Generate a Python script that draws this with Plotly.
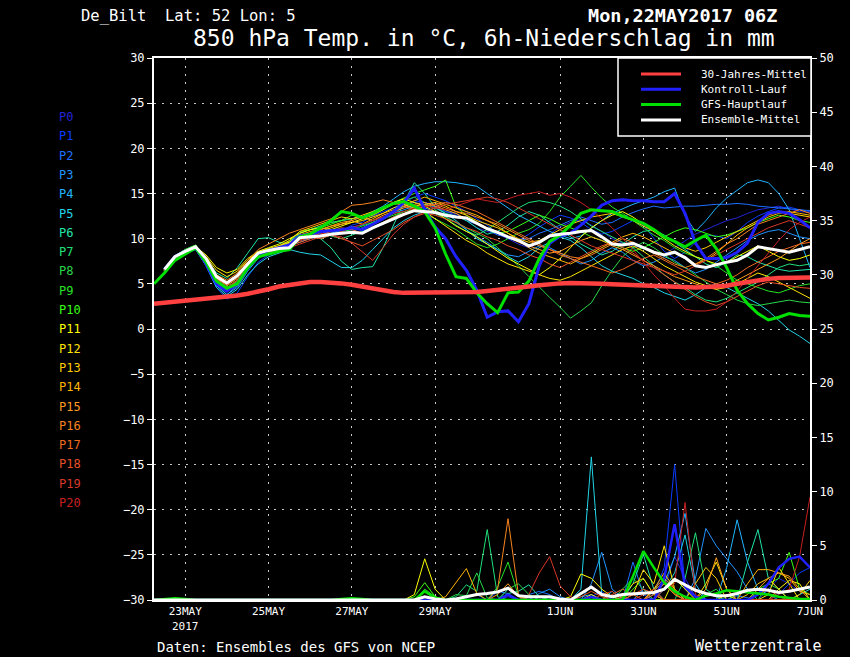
import pandas as pd
import plotly.graph_objects as go

# time axis: 6-hourly steps from 22 May 2017 06Z to 7 Jun 2017 00Z
times = pd.date_range("2017-05-22 06:00", periods=64, freq="6h")

tick_dates = ["2017-05-23", "2017-05-25", "2017-05-27", "2017-05-29",
              "2017-06-01", "2017-06-03", "2017-06-05", "2017-06-07"]
tick_text = ["23MAY<br>2017", "25MAY", "27MAY", "29MAY", "1JUN", "3JUN", "5JUN", "7JUN"]

member_names = ["P%d" % i for i in range(21)]
member_colors = ["#2424d8", "#0a3cff", "#2070ff", "#2094ff", "#20b4ff", "#20d4e8",
                 "#20e4a8", "#20e078", "#28d848", "#28e428", "#38ff10", "#ffff00",
                 "#ffe400", "#ffcc00", "#ffb400", "#ff9c20", "#f88420", "#f06a20",
                 "#e85028", "#d83828", "#c82020"]

legend_labels = ["30-Jahres-Mittel", "Kontroll-Lauf", "GFS-Hauptlauf", "Ensemble-Mittel"]

# 850 hPa temperature (deg C); members, control and mean start at 22 May 12Z
climate_temp = [2.8, 2.9, 3.0, 3.1, 3.2, 3.3, 3.4, 3.5,
                3.7, 3.9, 4.1, 4.4, 4.7, 4.9, 5.1, 5.2,
                5.2, 5.15, 5.05, 4.9, 4.7, 4.45, 4.2, 4.1,
                4.0, 4.0, 4.0, 4.0, 4.0, 4.0, 4.05, 4.1,
                4.2, 4.3, 4.4, 4.55, 4.7, 4.85, 5.0, 5.05,
                5.1, 5.1, 5.05, 5.0, 4.95, 4.9, 4.85, 4.8,
                4.75, 4.7, 4.7, 4.65, 4.6, 4.65, 4.7, 4.8,
                5.0, 5.2, 5.4, 5.55, 5.65, 5.7, 5.7, 5.7]

gfs_temp = [5.0, 6.2, 7.6, 8.3, 9.0, 7.4, 5.3, 4.5, 5.0, 6.8, 8.0, 8.3, 8.6, 8.8,
            10.2, 10.5, 11.2, 12.0, 13.0, 12.8, 12.3, 12.8, 13.4, 13.9, 14.1, 13.6, 13.0,
            11.2, 8.3, 5.8, 5.6, 4.0, 2.8, 1.8, 4.0, 4.1, 5.3, 7.8, 9.7, 10.4, 11.5, 12.8,
            13.2, 13.1, 13.0, 12.5, 12.1, 11.7, 11.0, 10.2, 9.7, 9.1, 9.8, 10.4, 8.9, 6.8,
            4.3, 2.8, 1.7, 1.0, 1.3, 1.7, 1.5, 1.4]

control_temp = [6.6, 8.0, 8.6, 9.0, 7.2, 5.0, 4.2, 5.0, 6.8, 8.2, 8.7, 9.0, 9.3,
                10.3, 10.5, 10.8, 10.9, 11.0, 11.2, 11.0, 11.6, 12.2, 13.0, 14.0, 15.6, 13.2,
                11.3, 10.0, 8.0, 6.5, 4.3, 1.3, 1.9, 2.0, 0.8, 2.8, 7.0, 9.5, 10.3, 10.6, 11.5,
                12.5, 13.7, 14.2, 14.3, 14.2, 14.2, 14.1, 14.1, 15.0, 12.8, 9.5, 7.8, 7.8, 7.9,
                8.5, 9.5, 11.8, 12.8, 13.0, 12.8, 12.1, 11.2]

mean_temp = [6.6, 8.0, 8.6, 9.1, 7.8, 5.8, 5.1, 5.9, 7.2, 8.4, 8.7, 8.9, 9.0,
             10.1, 10.2, 10.3, 10.5, 10.6, 10.7, 10.6, 11.2, 11.7, 12.2, 12.7, 13.1, 13.0,
             12.9, 12.6, 12.4, 12.3, 11.7, 11.1, 10.7, 10.2, 9.8, 9.2, 9.6, 10.3, 10.5, 10.6,
             10.8, 10.9, 10.2, 9.4, 9.3, 9.5, 9.0, 8.5, 8.2, 8.5, 7.9, 7.0, 6.8, 7.1, 7.4,
             7.6, 8.2, 9.1, 8.9, 8.7, 8.5, 8.8, 9.1]

temp_p00 = [6.6, 8.0, 8.7, 9.2, 7.4, 5.3, 4.2, 5.0, 6.8, 8.2, 8.7, 9.0, 9.4,
            10.2, 10.5, 10.4, 10.8, 11.0, 11.2, 11.0, 11.6, 12.2, 12.8, 13.5, 14.2, 14.0,
            13.8, 13.0, 12.6, 12.0, 11.2, 10.8, 10.5, 10.0, 9.4, 9.0, 9.6, 10.5, 11.3, 11.8,
            12.1, 11.5, 10.8, 10.0, 9.5, 9.2, 9.0, 8.6, 8.2, 9.0, 9.8, 10.5, 11.0, 11.5, 12.0,
            12.3, 12.8, 13.2, 13.4, 13.6, 13.3, 13.0, 12.9]
temp_p01 = [6.5, 7.9, 8.5, 9.0, 7.0, 4.6, 3.3, 4.0, 5.8, 7.4, 8.2, 8.6, 9.0,
            9.8, 10.0, 10.5, 11.0, 10.8, 11.5, 11.8, 12.5, 13.0, 13.4, 14.0, 14.6, 15.0,
            14.6, 14.2, 13.6, 13.0, 12.2, 11.5, 10.6, 10.0, 9.8, 10.5, 11.3, 12.0, 12.6, 12.3,
            11.8, 11.0, 10.5, 10.8, 11.4, 12.0, 11.5, 10.0, 8.6, 7.8, 8.5, 9.6, 10.4, 10.3,
            10.0, 10.8, 11.8, 12.5, 13.0, 13.4, 13.5, 13.2, 13.0]
temp_p02 = [6.6, 8.0, 8.6, 9.1, 7.6, 5.5, 4.5, 5.3, 6.9, 8.3, 8.7, 9.0, 9.5,
            10.4, 10.6, 10.8, 10.5, 10.9, 11.3, 11.5, 12.0, 12.4, 13.0, 13.6, 14.0, 13.8,
            13.5, 13.0, 12.8, 12.0, 11.6, 11.0, 10.4, 10.2, 9.8, 10.0, 10.6, 11.0, 11.5, 12.0,
            12.4, 12.0, 11.6, 11.8, 12.4, 12.9, 13.3, 13.6, 13.4, 13.5, 13.6, 13.6, 13.7, 13.8,
            13.8, 13.9, 13.8, 13.6, 13.5, 13.4, 13.3, 13.2, 13.1]
temp_p03 = [6.5, 7.8, 8.4, 9.0, 7.2, 5.0, 3.8, 4.6, 6.4, 7.8, 8.5, 8.8, 9.2,
            9.6, 10.0, 10.2, 10.6, 11.0, 10.8, 11.2, 11.8, 12.3, 12.8, 13.2, 13.6, 13.4,
            13.0, 12.4, 11.8, 11.0, 10.2, 9.6, 8.8, 8.2, 8.0, 8.6, 9.2, 9.0, 8.4, 7.8,
            7.2, 7.6, 8.4, 9.0, 8.5, 7.6, 7.0, 7.4, 8.0, 7.6, 6.8, 6.2, 6.6, 7.4, 8.2,
            9.0, 9.8, 10.4, 10.8, 11.0, 10.6, 10.2, 10.0]
temp_p04 = [6.7, 8.1, 8.8, 9.3, 7.2, 4.8, 3.8, 4.8, 6.6, 8.0, 8.6, 9.0, 9.6,
            10.6, 11.0, 11.4, 11.8, 12.0, 12.2, 12.4, 13.0, 13.6, 14.4, 15.2, 15.8, 16.1,
            16.3, 16.3, 16.2, 16.0, 15.8, 15.0, 14.2, 13.4, 12.6, 12.0, 11.4, 10.8, 10.4, 10.0,
            10.3, 11.2, 12.0, 12.8, 13.3, 13.8, 14.2, 14.6, 15.2, 15.6, 12.5, 10.8, 12.0, 13.4,
            14.5, 15.4, 16.2, 16.5, 16.2, 15.0, 13.2, 10.0, 6.8]
temp_p05 = [6.4, 7.7, 8.3, 8.8, 7.0, 4.6, 3.6, 4.4, 6.0, 7.2, 8.0, 8.4, 8.8,
            8.5, 8.3, 8.2, 7.5, 6.8, 6.8, 7.6, 8.8, 10.0, 11.2, 12.0, 12.6, 13.0,
            13.4, 12.8, 12.0, 11.0, 10.0, 9.4, 8.8, 8.0, 7.4, 8.0, 9.0, 9.6, 10.2, 9.8,
            9.0, 8.0, 7.0, 6.4, 6.0, 5.6, 5.0, 4.6, 4.0, 3.6, 3.2, 3.8, 4.6, 5.0, 4.6,
            4.0, 3.4, 2.8, 2.0, 1.0, -0.1, -0.8, -1.6]
temp_p06 = [6.6, 8.0, 8.6, 9.1, 7.8, 6.2, 5.6, 6.8, 8.4, 10.0, 10.1, 9.6, 9.4,
            9.8, 10.2, 10.0, 9.0, 7.5, 6.6, 6.8, 6.9, 9.0, 11.5, 14.0, 16.2, 15.0,
            13.5, 12.8, 12.5, 12.0, 11.2, 10.5, 10.8, 11.5, 12.4, 13.0, 12.6, 11.8, 11.0, 10.2,
            9.4, 8.8, 8.2, 8.6, 9.4, 10.2, 10.8, 11.0, 10.4, 9.6, 8.8, 8.0, 7.2, 6.8, 7.4,
            8.2, 8.0, 7.4, 7.0, 6.6, 6.4, 6.5, 6.6]
temp_p07 = [6.5, 7.9, 8.5, 9.0, 7.5, 5.5, 4.6, 5.4, 7.0, 8.3, 8.8, 9.1, 9.6,
            10.0, 10.4, 10.6, 10.3, 10.0, 10.4, 10.8, 11.2, 11.8, 12.4, 13.0, 13.4, 13.2,
            12.8, 12.2, 11.5, 10.8, 10.4, 11.0, 11.8, 12.6, 13.4, 14.0, 14.2, 14.0, 13.6, 13.0,
            12.2, 11.4, 10.8, 10.2, 9.6, 9.0, 8.0, 7.0, 6.0, 5.2, 4.6, 3.8, 3.2, 3.0, 3.4,
            4.0, 4.6, 5.2, 6.0, 6.8, 7.2, 7.0, 7.2]
temp_p08 = [6.6, 8.0, 8.7, 9.2, 7.6, 5.6, 4.8, 5.6, 7.2, 8.4, 8.8, 9.0, 9.4,
            10.6, 11.0, 11.4, 11.8, 12.0, 12.2, 12.4, 12.8, 13.2, 13.8, 14.2, 14.6, 14.0,
            13.2, 12.4, 11.8, 11.2, 10.6, 10.0, 9.0, 8.0, 7.0, 5.8, 4.6, 3.5, 2.4, 1.2,
            2.0, 2.9, 4.8, 6.5, 8.0, 9.0, 9.6, 9.0, 8.2, 7.4, 6.8, 6.0, 5.2, 4.4, 3.8,
            3.2, 2.8, 2.6, 2.8, 3.0, 3.2, 3.0, 2.9]
temp_p09 = [6.5, 7.9, 8.4, 8.9, 7.4, 5.4, 4.5, 5.3, 6.9, 8.1, 8.5, 8.8, 9.2,
            9.8, 10.2, 10.0, 10.4, 10.8, 11.0, 11.4, 11.8, 12.2, 12.6, 13.0, 13.2, 12.8,
            12.2, 11.6, 11.0, 10.2, 9.4, 9.0, 9.4, 10.0, 10.6, 11.0, 11.7, 13.0, 14.6, 15.8,
            17.0, 15.7, 14.5, 13.5, 12.8, 12.0, 11.2, 10.4, 9.8, 9.0, 8.4, 8.0, 7.6, 7.0, 6.2,
            5.4, 5.0, 4.6, 4.2, 4.0, 4.4, 4.8, 5.0]
temp_p10 = [6.7, 8.1, 8.8, 9.3, 7.7, 5.8, 5.0, 5.8, 7.3, 8.5, 8.9, 9.2, 9.7,
            10.8, 11.0, 11.2, 11.6, 12.0, 12.6, 12.4, 12.8, 13.4, 14.0, 14.5, 15.0, 15.4,
            15.8, 16.5, 13.5, 12.6, 11.8, 11.0, 10.6, 10.8, 11.4, 12.0, 12.6, 12.2, 11.6, 11.2,
            10.8, 10.2, 9.8, 9.4, 9.0, 8.6, 9.0, 9.6, 10.2, 10.8, 11.2, 11.0, 10.6, 10.2, 10.4,
            10.8, 11.2, 11.8, 12.2, 12.6, 12.4, 12.0, 11.8]
temp_p11 = [6.6, 8.0, 8.6, 9.1, 8.2, 6.8, 6.2, 6.6, 7.8, 8.6, 9.0, 9.4, 10.0,
            10.6, 11.0, 11.2, 11.0, 11.4, 11.8, 12.2, 12.6, 13.2, 14.0, 14.4, 14.0, 13.6,
            13.0, 12.2, 11.4, 10.8, 10.2, 9.4, 8.6, 7.8, 7.2, 6.6, 6.0, 6.8, 7.8, 9.0,
            10.2, 11.2, 12.0, 12.6, 13.0, 12.4, 11.6, 10.8, 10.0, 9.2, 8.6, 8.0, 7.6, 7.2, 7.4,
            8.0, 8.6, 9.2, 8.6, 8.0, 7.6, 7.8, 8.2]
temp_p12 = [6.5, 7.9, 8.5, 9.0, 8.0, 6.5, 5.8, 6.4, 7.6, 8.5, 8.9, 9.2, 9.6,
            10.2, 10.4, 10.8, 11.2, 11.6, 11.8, 12.0, 12.4, 12.8, 13.4, 13.8, 13.4, 13.0,
            12.2, 11.4, 10.6, 9.8, 9.2, 8.4, 7.8, 7.2, 6.8, 6.4, 6.0, 5.6, 5.4, 5.8,
            6.4, 7.0, 7.6, 8.2, 8.8, 9.2, 8.6, 7.8, 7.0, 6.4, 5.8, 5.2, 4.8, 4.4, 4.6,
            5.0, 5.6, 6.2, 5.8, 5.2, 4.6, 4.0, 3.4]
temp_p13 = [6.6, 8.0, 8.6, 9.2, 7.8, 6.0, 5.2, 6.0, 7.4, 8.4, 8.8, 9.2, 9.8,
            10.8, 11.2, 11.6, 12.0, 12.4, 12.2, 12.6, 13.0, 13.4, 13.8, 14.0, 13.6, 13.8,
            14.0, 13.6, 13.0, 12.6, 12.0, 11.6, 11.2, 10.6, 10.0, 9.6, 9.8, 10.4, 11.0, 11.6,
            12.0, 12.4, 12.6, 12.8, 12.4, 12.0, 11.4, 10.8, 10.2, 9.6, 9.0, 8.6, 9.0, 9.6, 10.2,
            10.8, 11.4, 12.0, 12.6, 13.0, 12.8, 12.6, 12.4]
temp_p14 = [6.6, 8.0, 8.7, 9.1, 7.6, 5.8, 5.0, 5.8, 7.2, 8.4, 8.8, 9.0, 9.5,
            10.4, 10.8, 11.0, 11.4, 11.8, 12.0, 11.6, 12.2, 12.8, 13.2, 13.6, 14.2, 14.6,
            14.2, 13.8, 13.4, 13.0, 12.6, 12.0, 11.4, 10.6, 9.8, 9.0, 8.4, 8.0, 7.6, 7.2,
            7.8, 8.4, 9.0, 9.6, 10.2, 10.6, 10.2, 9.6, 9.0, 8.4, 7.8, 7.2, 7.6, 8.4, 9.4,
            10.4, 11.2, 11.8, 12.4, 12.8, 13.0, 12.8, 12.6]
temp_p15 = [6.5, 7.9, 8.5, 9.0, 7.5, 5.6, 4.8, 5.6, 7.0, 8.2, 8.7, 9.0, 9.4,
            10.0, 10.6, 11.0, 11.4, 11.6, 12.0, 12.4, 12.0, 12.6, 13.0, 13.4, 13.8, 14.0,
            13.6, 13.2, 12.8, 12.2, 11.8, 11.2, 10.8, 10.2, 9.6, 9.2, 8.8, 8.4, 8.6, 9.2,
            9.8, 10.2, 9.8, 9.2, 8.8, 8.2, 7.6, 7.0, 6.4, 5.8, 5.4, 5.0, 4.6, 4.4, 4.8,
            5.4, 6.0, 6.6, 7.2, 7.8, 8.6, 9.4, 10.0]
temp_p16 = [6.6, 8.0, 8.7, 9.2, 7.8, 6.0, 5.4, 6.2, 7.6, 8.8, 9.4, 10.0, 10.6,
            11.0, 11.4, 11.8, 12.2, 13.0, 13.7, 13.8, 14.0, 14.3, 14.0, 13.6, 13.2, 13.6,
            13.8, 13.4, 13.0, 12.8, 12.4, 12.0, 11.6, 11.0, 10.4, 9.8, 9.2, 8.8, 8.4, 8.0,
            7.8, 8.2, 8.8, 9.4, 10.0, 9.6, 9.0, 8.4, 7.8, 7.2, 6.8, 7.2, 7.8, 8.6, 9.4,
            10.0, 10.8, 11.6, 12.0, 12.4, 12.8, 13.2, 12.8]
temp_p17 = [6.5, 7.9, 8.4, 8.9, 7.4, 5.4, 4.5, 5.4, 6.8, 8.0, 8.5, 8.8, 9.2,
            9.6, 10.0, 10.4, 10.8, 11.2, 11.0, 10.6, 11.2, 11.8, 12.4, 12.8, 13.2, 13.6,
            13.8, 14.0, 13.8, 13.4, 13.0, 12.4, 11.8, 11.2, 10.6, 10.0, 9.4, 8.8, 8.2, 7.8,
            7.4, 7.0, 6.6, 6.2, 6.6, 7.2, 7.8, 8.2, 7.6, 7.0, 6.4, 5.8, 5.4, 5.0, 5.4,
            6.0, 6.8, 7.4, 8.0, 8.6, 9.0, 9.4, 9.6]
temp_p18 = [6.6, 8.0, 8.6, 9.0, 7.6, 5.8, 5.0, 5.8, 7.2, 8.2, 8.6, 8.9, 9.2,
            9.8, 10.2, 10.0, 10.4, 10.0, 9.6, 9.2, 9.8, 10.4, 11.0, 11.8, 12.4, 12.8,
            12.6, 12.2, 11.8, 11.2, 10.8, 10.2, 9.8, 9.2, 8.8, 8.2, 7.8, 7.2, 6.8, 7.4,
            8.0, 8.6, 9.2, 9.6, 9.0, 8.4, 7.6, 6.8, 6.0, 5.2, 4.4, 3.6, 3.0, 2.6, 3.0,
            3.6, 4.2, 4.8, 5.2, 5.0, 4.8, 4.6, 4.5]
temp_p19 = [6.5, 7.8, 8.4, 8.9, 7.4, 5.5, 4.6, 5.4, 6.8, 8.0, 8.4, 8.7, 9.0,
            9.4, 9.8, 10.2, 10.4, 10.2, 9.5, 8.5, 7.6, 9.0, 10.5, 11.6, 12.4, 13.0,
            13.4, 13.8, 14.0, 14.2, 14.4, 14.6, 14.4, 14.0, 13.4, 12.8, 12.2, 11.6, 11.0, 10.4,
            9.8, 9.2, 8.8, 8.4, 8.0, 7.6, 7.2, 6.8, 6.4, 6.0, 6.4, 7.0, 7.6, 8.2, 8.8,
            9.4, 10.0, 10.6, 11.2, 11.6, 12.0, 11.6, 11.2]
temp_p20 = [6.6, 7.9, 8.5, 9.0, 7.6, 5.7, 4.9, 5.7, 7.1, 8.2, 8.6, 8.9, 9.3,
            9.8, 10.2, 10.6, 10.4, 10.8, 11.2, 11.6, 12.0, 12.4, 12.8, 13.0, 13.4, 13.6,
            13.4, 13.2, 13.6, 14.0, 14.4, 14.2, 14.0, 14.4, 14.8, 15.0, 15.2, 14.8, 15.0, 14.6,
            14.0, 13.2, 12.2, 11.2, 10.0, 8.8, 7.4, 6.0, 4.8, 3.4, 2.2, 2.0, 2.0, 2.2, 3.0,
            4.2, 5.6, 7.0, 8.4, 9.8, 11.0, 11.8, 12.4]

# 6h precipitation (mm), 22 May 06Z .. 7 Jun 00Z
prec_p00 = [0, 0, 0, 0, 0, 0, 0, 0, 0, 0, 0, 0, 0, 0, 0, 0, 0, 0, 0, 0, 0, 0, 0, 0, 0, 0, 0, 0, 0, 0, 0, 0,
            0, 0, 0.3, 0, 0, 0, 0, 0, 0, 0, 0.2, 0, 0, 0, 0, 0, 0, 1.0, 4.0, 2.0, 0.3, 0, 0, 0, 0, 0, 0, 1.0, 2.0, 1.5, 0.8, 0.5]
prec_p01 = [0, 0, 0, 0, 0, 0, 0, 0, 0, 0, 0, 0, 0, 0, 0, 0, 0, 0, 0, 0, 0, 0, 0, 0, 0, 0, 0, 0, 0, 0, 0, 0,
            0, 0, 0, 0, 0, 0, 0, 0, 0, 0, 0.3, 0.8, 0, 0, 0, 0, 0.5, 3.0, 12.5, 1.0, 0.2, 0, 0, 0, 0, 0, 0, 0, 0.5, 1.5, 2.5, 3.0]
prec_p02 = [0, 0, 0, 0, 0, 0, 0, 0, 0, 0, 0, 0, 0, 0, 0, 0, 0, 0, 0, 0, 0, 0, 0, 0, 0, 0, 0, 0, 0, 0, 0.3, 0.5,
            0, 0.8, 0.6, 0, 0.5, 0.8, 0.5, 0, 0, 0, 0, 0, 0, 0, 3.5, 0.5, 0, 0, 0, 0, 0, 0, 0, 0, 0.4, 0.2, 0, 0, 0, 0, 0, 0]
prec_p03 = [0, 0, 0, 0, 0, 0, 0, 0, 0, 0, 0, 0, 0, 0, 0, 0, 0, 0, 0, 0, 0, 0, 0, 0, 0, 0, 0, 0, 0, 0, 0, 0,
            0, 0, 1.0, 0.5, 0, 0.6, 1.0, 0.3, 0, 0, 1.5, 4.4, 1.0, 0.2, 0, 0, 0, 0, 0, 0, 2.0, 6.6, 5.0, 3.8, 2.6, 1.0, 0, 0, 0, 0, 0, 0]
prec_p04 = [0, 0, 0, 0, 0, 0, 0, 0, 0, 0, 0, 0, 0, 0, 0, 0, 0, 0, 0, 0, 0, 0, 0, 0, 0, 0, 0, 0, 0, 0, 0, 0,
            0, 0, 0, 0, 0, 0, 0, 0, 0, 0.3, 0.5, 0, 0.8, 0, 0, 1.0, 0.5, 1.5, 4.0, 8.0, 1.5, 0, 0, 3.0, 7.4, 3.5, 1.0, 0.5, 0, 0, 0, 0]
prec_p05 = [0, 0, 0, 0, 0, 0, 0, 0, 0, 0, 0, 0, 0, 0, 0, 0, 0, 0, 0, 0, 0, 0, 0, 0, 0, 0, 0, 0, 0, 0, 0, 0,
            0, 0, 0, 0, 0, 0, 0, 0, 0, 1.0, 13.2, 0.5, 0.3, 0, 0, 0, 0, 1.0, 2.5, 6.0, 1.0, 0, 0, 0, 0, 0, 0, 0, 0, 0, 0.5, 1.0]
prec_p06 = [0, 0, 0, 0, 0, 0, 0, 0, 0, 0, 0, 0, 0, 0, 0, 0, 0, 0, 0, 0, 0, 0, 0, 0, 0, 0, 0, 0, 0, 0, 0, 0,
            0, 0, 0.6, 0.8, 1.4, 0.3, 0, 0, 0, 0, 0, 0, 0, 0, 1.5, 4.2, 1.0, 0, 0, 0, 0, 0, 0, 0, 0, 3.5, 6.5, 2.0, 1.0, 0, 0, 0]
prec_p07 = [0, 0, 0, 0, 0, 0, 0, 0, 0, 0, 0, 0, 0, 0, 0, 0, 0, 0, 0, 0, 0, 0, 0, 0, 0, 0, 0, 0, 0, 0.3, 1.4, 0.8,
            6.5, 0.3, 0, 0, 0, 0, 0, 0, 0, 0, 0, 0, 0, 0, 0, 0, 0, 0, 0, 2.0, 6.2, 1.0, 0.3, 0, 0, 0, 0, 0, 0, 0, 0, 0]
prec_p08 = [0, 0, 0, 0, 0, 0, 0, 0, 0, 0, 0, 0, 0, 0, 0, 0, 0, 0, 0, 0, 0, 0, 0, 0, 0, 0, 0, 0, 0, 0.5, 0.4, 2.5,
            0.2, 0, 1.0, 1.5, 0.5, 0, 0, 0, 0, 0, 0, 0, 0, 1.0, 2.0, 1.0, 0, 0, 0, 0, 0, 0.5, 1.0, 0, 0, 0, 0, 1.5, 1.0, 0, 0, 0]
prec_p09 = [0, 0, 0, 0, 0, 0, 0, 0, 0, 0, 0, 0, 0, 0, 0, 0, 0, 0, 0, 0, 0, 0, 0, 0, 0, 0, 1.0, 0.3, 0, 0, 0, 0,
            0, 1.2, 3.5, 0.4, 0, 0, 0, 0, 0, 0, 0, 0, 0, 0, 0, 0, 1.0, 1.5, 0.5, 0, 0, 0, 0, 0, 0.6, 1.0, 0, 0, 0, 0, 0, 0]
prec_p10 = [0, 0, 0, 0, 0, 0, 0, 0, 0, 0, 0, 0, 0, 0, 0, 0, 0, 0, 0, 0, 0, 0, 0, 0, 0, 0.3, 1.6, 0.3, 0, 0, 0, 0,
            0, 0, 0, 0, 0.4, 0.3, 0, 0, 0, 0, 0, 0, 0, 0, 1.0, 2.0, 0.5, 0, 0, 0, 0, 0, 0, 0, 0, 0, 1.0, 1.5, 2.0, 4.4, 1.0, 0.5]
prec_p11 = [0, 0, 0, 0, 0, 0, 0, 0, 0, 0, 0, 0, 0, 0, 0, 0, 0, 0, 0, 0, 0, 0, 0, 0, 0, 0.5, 3.8, 1.0, 0, 0, 0, 0,
            0, 0, 0, 0, 0, 0, 0, 0, 0.3, 2.4, 2.0, 1.0, 0.3, 0, 0, 0, 0, 0, 2.0, 1.0, 0, 0, 0, 0.5, 0, 0, 0, 0, 1.0, 1.8, 1.5, 0]
prec_p12 = [0, 0, 0, 0, 0, 0, 0, 0, 0, 0, 0, 0, 0, 0, 0, 0, 0, 0, 0, 0, 0, 0, 0, 0, 0, 0, 0, 0, 0, 0, 0, 0,
            0, 0, 0, 0, 0, 0, 0, 0, 0, 0, 0.5, 0, 0, 0, 0.5, 2.8, 1.5, 5.0, 1.0, 0, 0, 1.5, 3.5, 1.0, 0, 0, 0, 0.5, 3.0, 1.5, 0, 0]
prec_p13 = [0, 0, 0, 0, 0, 0, 0, 0, 0, 0, 0, 0, 0, 0, 0, 0, 0, 0, 0, 0, 0, 0, 0, 0, 0, 0, 0, 0, 0, 0, 0, 0,
            0, 0, 0, 0, 0, 0, 0, 0, 0, 0, 0, 0, 0, 0.3, 1.5, 2.0, 0.5, 0, 0, 0, 1.5, 3.0, 2.0, 0, 0, 0.5, 1.5, 2.0, 1.0, 0, 0.5, 1.8]
prec_p14 = [0, 0, 0, 0, 0, 0, 0, 0, 0, 0, 0, 0, 0, 0, 0, 0, 0, 0, 0, 0, 0, 0, 0, 0, 0, 0, 0, 0, 0.3, 1.6, 2.9, 0.6,
            0, 0, 0, 0, 0, 0, 0, 0, 0, 0, 0, 0, 0, 0, 0, 0, 1.0, 2.5, 1.0, 0, 0, 0, 0, 0, 0, 1.5, 2.8, 2.8, 2.5, 2.0, 0.8, 0.5]
prec_p15 = [0, 0, 0, 0, 0, 0, 0, 0, 0, 0, 0, 0, 0, 0, 0, 0, 0, 0, 0, 0, 0, 0, 0, 0, 0, 0, 0, 0, 0, 0, 0, 0,
            0, 0.5, 1.5, 0.3, 0, 0, 0, 0, 0, 0, 0, 0, 0, 0, 0, 0, 1.0, 2.0, 1.0, 0, 0, 1.0, 3.9, 1.0, 0, 0, 1.0, 2.0, 2.5, 2.2, 1.0, 0]
prec_p16 = [0, 0, 0, 0, 0, 0, 0, 0, 0, 0, 0, 0, 0, 0, 0, 0, 0, 0, 0, 0, 0, 0, 0, 0, 0, 0, 0, 0, 0, 0, 0, 0,
            0, 1.0, 7.5, 0.5, 0, 0, 0, 0, 0, 0, 0, 0, 0, 0, 0, 0, 0.5, 1.5, 0.5, 0, 0, 0, 0, 0, 0, 0, 0, 0, 0, 0, 0, 0]
prec_p17 = [0, 0, 0, 0, 0, 0, 0, 0, 0, 0, 0, 0, 0, 0, 0, 0, 0, 0, 0, 0, 0, 0, 0, 0, 0, 0, 0, 0, 0, 0, 0, 0,
            0, 0, 0, 0, 0, 0, 0, 0, 0, 0, 0, 0, 0.5, 1.0, 0.5, 0, 0.8, 1.8, 0.6, 0, 0, 0, 0, 0, 0, 0, 0, 0, 0, 0, 0, 0]
prec_p18 = [0, 0, 0, 0, 0, 0, 0, 0, 0, 0, 0, 0, 0, 0, 0, 0, 0, 0, 0, 0, 0, 0, 0, 0, 0, 0, 0, 0, 0, 0, 0, 0,
            0, 0, 0, 0, 0, 0, 0, 0, 0, 0.3, 0.8, 0.3, 0, 0, 0.5, 1.0, 0.6, 0, 0, 0, 0, 0, 0, 0, 0, 0, 0.5, 1.0, 0.3, 0, 0, 0]
prec_p19 = [0, 0, 0, 0, 0, 0, 0, 0, 0, 0, 0, 0, 0, 0, 0, 0, 0, 0, 0, 0, 0, 0, 0, 0, 0, 0, 0, 0, 0, 0, 0, 0,
            0, 0, 0, 0, 0.5, 2.5, 4.0, 1.3, 0.3, 0, 0, 0.5, 0.8, 0, 0, 0.5, 1.0, 0, 0, 0, 0, 0, 0, 0, 0, 0, 0, 0, 0, 0, 0, 0]
prec_p20 = [0, 0, 0, 0, 0, 0, 0, 0, 0, 0, 0, 0, 0, 0, 0, 0, 0, 0, 0, 0, 0, 0, 0, 0, 0, 0, 0, 0, 0, 0, 0, 0,
            0, 0, 0, 0, 0, 0, 0, 0, 0, 0, 0, 0, 0, 0, 0, 0, 0, 1.0, 1.5, 9.0, 0.5, 0, 0, 0, 0, 0, 0, 0, 0.5, 1.0, 4.0, 9.5]

control_prec = [0, 0, 0, 0, 0, 0, 0, 0, 0, 0, 0, 0, 0, 0, 0, 0, 0, 0, 0, 0, 0, 0, 0, 0, 0, 0, 0, 0, 0, 0, 0, 0,
                0, 0, 0.5, 0, 0, 0, 0, 0, 0, 0, 0.3, 0, 0, 0, 0, 0, 0, 2.0, 7.0, 1.2, 0.3, 0, 0, 0, 0, 0, 0.5, 1.5, 3.0, 3.8, 4.0, 3.0]
gfs_prec = [0, 0.1, 0.15, 0.1, 0, 0, 0, 0, 0, 0, 0, 0, 0, 0, 0, 0, 0, 0, 0.1, 0.15, 0.1, 0, 0, 0, 0, 0, 0.8, 0.2, 0, 0, 0, 0,
            0, 0, 0, 0, 0, 0, 0, 0, 0, 0, 0, 0, 0, 0, 2.2, 4.5, 3.0, 1.6, 0.8, 0.3, 0, 0.4, 0.6, 0.9, 0.8, 0.7, 0.6, 0.5, 0.3, 0.2, 0.1, 0.1]
mean_prec = [0, 0, 0, 0, 0, 0, 0, 0, 0, 0, 0, 0, 0, 0, 0, 0, 0, 0, 0, 0, 0, 0, 0, 0, 0, 0, 0.3, 0.1, 0, 0.1, 0.3, 0.5,
             0.6, 0.75, 1.1, 0.4, 0.3, 0.3, 0.3, 0.1, 0, 0.6, 1.2, 0.5, 0.3, 0.5, 0.55, 0.6, 0.7, 1.0, 1.9, 1.4, 0.9, 0.6, 0.4, 0.4,
             0.6, 0.9, 1.0, 0.9, 0.7, 0.8, 1.0, 1.2]

member_temps = [temp_p00, temp_p01, temp_p02, temp_p03, temp_p04, temp_p05, temp_p06,
                temp_p07, temp_p08, temp_p09, temp_p10, temp_p11, temp_p12, temp_p13,
                temp_p14, temp_p15, temp_p16, temp_p17, temp_p18, temp_p19, temp_p20]
member_precs = [prec_p00, prec_p01, prec_p02, prec_p03, prec_p04, prec_p05, prec_p06,
                prec_p07, prec_p08, prec_p09, prec_p10, prec_p11, prec_p12, prec_p13,
                prec_p14, prec_p15, prec_p16, prec_p17, prec_p18, prec_p19, prec_p20]

FONT = "DejaVu Sans Mono"
CLIM_RED = "#ff4040"
CTRL_BLUE = "#2020ff"
GFS_GREEN = "#00e000"
GRID = "#c8c8c8"

fig = go.Figure()


def line(x, y, color, width, axis="y"):
    fig.add_trace(go.Scatter(x=x, y=y, mode="lines", yaxis=axis,
                             line=dict(color=color, width=width),
                             showlegend=False, hoverinfo="skip"))


# ensemble members (temperature on left axis, precipitation on right axis)
for color, vals in zip(member_colors, member_temps):
    line(times[1:1 + len(vals)], vals, color, 1)
for color, vals in zip(member_colors, member_precs):
    line(times[:len(vals)], vals, color, 1, "y2")

# control run, GFS main run, climatology, ensemble mean
line(times[1:1 + len(control_temp)], control_temp, CTRL_BLUE, 3)
line(times[:len(control_prec)], control_prec, CTRL_BLUE, 2.5, "y2")
line(times[:len(gfs_temp)], gfs_temp, GFS_GREEN, 3)
line(times[:len(gfs_prec)], gfs_prec, GFS_GREEN, 2.5, "y2")
line(times[:len(climate_temp)], climate_temp, CLIM_RED, 4.5)
line(times[1:1 + len(mean_temp)], mean_temp, "white", 3)
line(times[:len(mean_prec)], mean_prec, "white", 3, "y2")

axis_common = dict(showline=True, linecolor="white", linewidth=2, ticks="outside",
                   tickcolor="white", ticklen=5, zeroline=False,
                   tickfont=dict(family=FONT, size=12, color="white"))

fig.update_layout(
    width=850, height=657,
    paper_bgcolor="black", plot_bgcolor="black",
    margin=dict(l=154, r=40, t=58, b=57),
    showlegend=False,
    font=dict(family=FONT, color="white"),
    xaxis=dict(range=[times[0], times[-1]], tickvals=tick_dates, ticktext=tick_text,
               showgrid=True, gridcolor=GRID, griddash="2px,6px", gridwidth=1,
               mirror=True, showline=True, linecolor="white", linewidth=2,
               ticks="", zeroline=False,
               tickfont=dict(family=FONT, size=11, color="white")),
    yaxis=dict(range=[-30, 30], tick0=0, dtick=5, showgrid=True, gridcolor=GRID,
               griddash="2px,6px", gridwidth=1, **axis_common),
    yaxis2=dict(range=[0, 50], tick0=0, dtick=5, overlaying="y", side="right",
                showgrid=False, **axis_common),
)


def px(x):
    return (x - 154) / 656


def py(y):
    return (600 - y) / 542


# headers and footers
texts = [
    ("De_Bilt  Lat: 52 Lon: 5", px(79), py(16), "left", 15.5, False),
    ("Mon,22MAY2017 06Z", px(779), py(16), "right", 18.5, True),
    ("850 hPa Temp. in \u00b0C, 6h-Niederschlag in mm", px(484), py(38), "center", 23, False),
    ("Daten: Ensembles des GFS von NCEP", px(155), py(647), "left", 14, False),
    ("Wetterzentrale", px(823), py(646), "right", 15, False),
]
for txt, x, y, anchor, size, bold in texts:
    fig.add_annotation(text="<b>%s</b>" % txt if bold else txt, x=x, y=y,
                       xref="paper", yref="paper", xanchor=anchor, yanchor="middle",
                       showarrow=False, font=dict(family=FONT, size=size, color="white"))

# member labels on the left
for i, (name, color) in enumerate(zip(member_names, member_colors)):
    fig.add_annotation(text=name, x=px(57), y=py(117 + i * 19.3), xref="paper", yref="paper",
                       xanchor="left", yanchor="middle", showarrow=False,
                       font=dict(family=FONT, size=12, color=color))

# legend box
fig.add_shape(type="rect", xref="paper", yref="paper", x0=px(618), x1=px(811),
              y0=py(136), y1=py(58), line=dict(color="white", width=1.5),
              fillcolor="black", layer="above")
legend_colors = [CLIM_RED, CTRL_BLUE, GFS_GREEN, "white"]
for i, (label, color) in enumerate(zip(legend_labels, legend_colors)):
    yy = py(74 + i * 15.3)
    fig.add_shape(type="line", xref="paper", yref="paper", x0=px(641), x1=px(681),
                  y0=yy, y1=yy, line=dict(color=color, width=3), layer="above")
    fig.add_annotation(text=label, x=px(699), y=yy, xref="paper", yref="paper",
                       xanchor="left", yanchor="middle", showarrow=False,
                       font=dict(family=FONT, size=11, color="white"))

# the page's default 8px body margin would shift the figure off the window
fig.write_html("out.html", config={"displayModeBar": False},
               post_script="document.body.style.margin = '0';")
